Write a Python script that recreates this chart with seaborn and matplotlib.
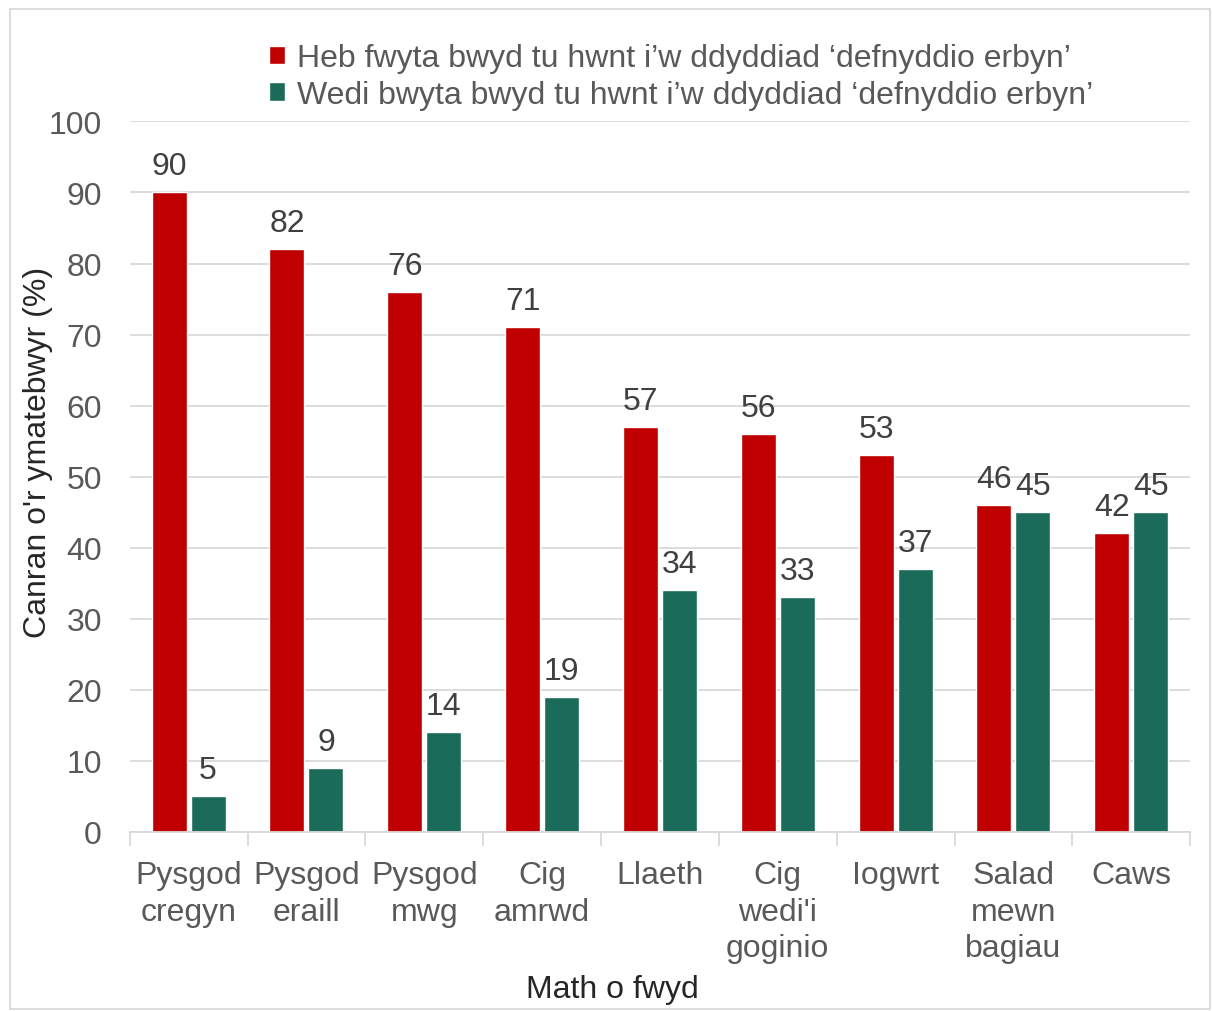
import numpy as np
import pandas as pd
import seaborn as sns
import matplotlib
matplotlib.use('Agg')
from matplotlib import pyplot as plt
from matplotlib.ticker import FixedLocator

categories = ["Pysgod\ncregyn", "Pysgod\neraill", "Pysgod\nmwg", "Cig\namrwd", "Llaeth",
              "Cig\nwedi'i\ngoginio", "Iogwrt", "Salad\nmewn\nbagiau", "Caws"]
series_names = ["Heb fwyta bwyd tu hwnt i\u2019w ddyddiad \u2018defnyddio erbyn\u2019",
                "Wedi bwyta bwyd tu hwnt i\u2019w ddyddiad \u2018defnyddio erbyn\u2019"]
not_eaten = [90, 82, 76, 71, 57, 56, 53, 46, 42]
eaten = [5, 9, 14, 19, 34, 33, 37, 45, 45]
yticks = [0, 10, 20, 30, 40, 50, 60, 70, 80, 90, 100]

df = pd.DataFrame({
  "cat": categories * 2,
  "series": [series_names[0]] * len(categories) + [series_names[1]] * len(categories),
  "value": not_eaten + eaten,
})

sns.set_style("white")
plt.rcParams['font.family'] = ['Liberation Sans', 'DejaVu Sans']
fs = 23

fig = plt.figure(figsize=(12.12, 10.12), dpi=100)
ax = fig.add_axes([0.107, 0.177, 0.875, 0.702])

sns.barplot(data=df, x="cat", y="value", hue="series", order=categories,
            hue_order=series_names, palette=["#C00000", "#1A6B5A"],
            width=0.66, gap=0.1, ax=ax, legend=True, saturation=1)

for cont in ax.containers:
  ax.bar_label(cont, fmt="%d", padding=8, fontsize=fs, color="#404040")

ax.set_ylim(0, 100)
ax.set_xlim(-0.5, len(categories) - 0.5)
ax.set_yticks(yticks)
ax.yaxis.grid(True, color="#D9D9D9", linewidth=1.3)
ax.set_axisbelow(True)
for s in ["top", "right", "left"]:
  ax.spines[s].set_visible(False)
ax.spines["bottom"].set_color("#D9D9D9")
ax.spines["bottom"].set_linewidth(1.3)

ax.xaxis.set_minor_locator(FixedLocator(np.arange(-0.5, len(categories), 1.0)))
ax.tick_params(axis="x", which="major", length=0, pad=20, labelsize=fs, labelcolor="#595959")
ax.tick_params(axis="x", which="minor", length=10, width=1.3, color="#D9D9D9", bottom=True)
ax.tick_params(axis="y", length=0, pad=20, labelsize=fs, labelcolor="#595959")
for t in ax.get_xticklabels():
  t.set_linespacing(1.3)

ax.set_xlabel("Math o fwyd", fontsize=fs, color="#262626")
ax.xaxis.set_label_coords(0.455, -0.2)
ax.set_ylabel("Canran o'r ymatebwyr (%)", fontsize=fs, color="#262626")
ax.yaxis.set_label_coords(-0.072, 0.535)

handles, labels = ax.get_legend_handles_labels()
ax.legend(handles, labels, loc="lower center", bbox_to_anchor=(0.52, 0.985), frameon=False,
          fontsize=fs, labelcolor="#595959", handlelength=0.5, handleheight=0.5,
          handletextpad=0.4, labelspacing=0.2, borderpad=0.2)

fig.patches.append(plt.Rectangle((0.008, 0.002), 0.99, 0.988, transform=fig.transFigure,
                                 fill=False, edgecolor="#D9D9D9", linewidth=1.3))

plt.savefig("out.png", dpi=100)
plt.close()
